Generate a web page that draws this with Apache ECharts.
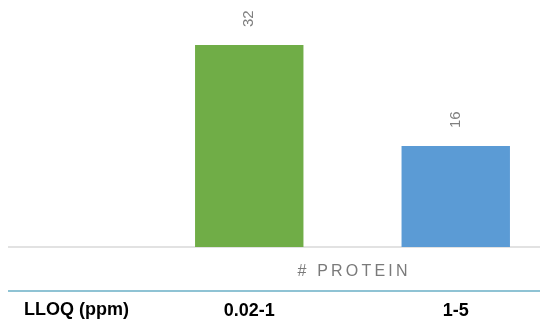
<!DOCTYPE html>
<html>
<head>
<meta charset="utf-8">
<script src="https://cdn.jsdelivr.net/npm/echarts@6/dist/echarts.min.js"></script>
<style>
  html, body { margin: 0; padding: 0; background: #fff; }
  #chart { width: 540px; height: 322px; }
</style>
</head>
<body>
<div id="chart"></div>
<script>
// LLOQ ranges (ppm) and protein counts per range
const categories = ['0.02-1', '1-5'];
const proteinCounts = [32, 16];
const barColors = ['#70ad47', '#5b9bd5'];
const rowHeader = 'LLOQ (ppm)';
const seriesTitle = '# PROTEIN';

// spread the letters of the series title a little apart
const spacedTitle = seriesTitle.split('').join('\u2009');

const chart = echarts.init(document.getElementById('chart'), null, { renderer: 'canvas' });

chart.setOption({
  animation: false,
  backgroundColor: '#ffffff',
  grid: {
    left: 146, right: -19, top: 45, bottom: 75,
    containLabel: false,
    outerBoundsMode: 'none'
  },
  xAxis: {
    type: 'category',
    data: categories,
    axisLine: { show: false },
    axisTick: { show: false },
    axisLabel: {
      margin: 55,
      fontFamily: 'Liberation Sans, Arial, sans-serif',
      fontWeight: 'bold',
      fontSize: 18,
      color: '#000000'
    },
    name: spacedTitle,
    nameLocation: 'middle',
    nameGap: 17,
    nameMoveOverlap: false,
    nameTextStyle: {
      fontFamily: 'Liberation Sans, Arial, sans-serif',
      fontSize: 16,
      color: '#7a7a7a',
      verticalAlign: 'top'
    }
  },
  yAxis: {
    type: 'value',
    min: 0,
    max: 32,
    show: false,
    splitLine: { show: false }
  },
  series: [{
    type: 'bar',
    data: proteinCounts.map((v, i) => ({ value: v, itemStyle: { color: barColors[i] } })),
    barWidth: '52.5%',
    label: {
      show: true,
      position: 'top',
      distance: 18,
      rotate: 90,
      align: 'left',
      verticalAlign: 'middle',
      fontFamily: 'Liberation Sans, Arial, sans-serif',
      fontSize: 15,
      color: '#7f7f7f'
    }
  }],
  graphic: [
    // chart baseline
    { type: 'line', shape: { x1: 8, y1: 247, x2: 540, y2: 247 },
      style: { stroke: '#d9d9d9', lineWidth: 1.5 }, silent: true },
    // rule above the table row
    { type: 'line', shape: { x1: 8, y1: 291, x2: 540, y2: 291 },
      style: { stroke: '#6aafc6', lineWidth: 1.5 }, silent: true },
    // table row header
    { type: 'text', left: 24, top: 301,
      style: { text: rowHeader, fontFamily: 'Liberation Sans, Arial, sans-serif',
               fontWeight: 'bold', fontSize: 18, fill: '#000000' } }
  ]
});
</script>
</body>
</html>
